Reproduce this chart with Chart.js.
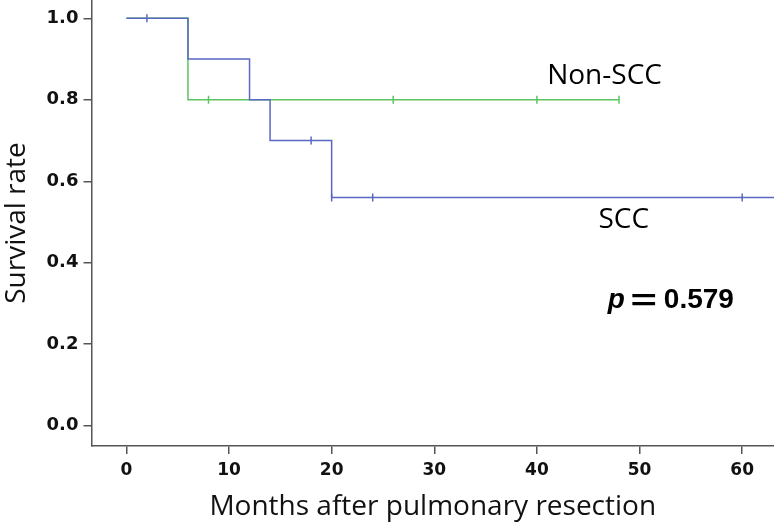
<!DOCTYPE html>
<html lang="en">
<head>
    <meta charset="UTF-8">
    <title>Survival after pulmonary resection</title>
    <script src="https://cdn.jsdelivr.net/npm/chart.js@4.4.0/dist/chart.umd.min.js"></script>
    <style>
        body { margin: 0; background: #fff; }
        .chart-container { width: 774px; height: 525px; }
    </style>
</head>
<body>
    <div class="chart-container">
        <canvas id="kmChart"></canvas>
    </div>

    <script>
        // Kaplan-Meier steps (time in months, survival after event)
        const sccTimes = [0, 6, 12, 14, 20, 63.1];
        const sccSurvival = [1.0, 0.9, 0.8, 0.7, 0.56, 0.56];
        const sccCensorTimes = [2, 18, 20, 24, 60];
        const sccCensorSurvival = [1.0, 0.7, 0.56, 0.56, 0.56];

        const nonSccTimes = [0, 6, 48];
        const nonSccSurvival = [1.0, 0.8, 0.8];
        const nonSccCensorTimes = [8, 26, 40, 48];
        const nonSccCensorSurvival = [0.8, 0.8, 0.8, 0.8];

        const xTicks = [0, 10, 20, 30, 40, 50, 60];
        const yTicks = [0.0, 0.2, 0.4, 0.6, 0.8, 1.0];

        const blue = '#5a68c2';
        const green = '#5cc462';
        const axisColor = '#555555';

        const toPoints = (xs, ys) => xs.map((x, i) => ({ x: x, y: ys[i] }));

        // text labels placed in data coordinates
        const labelPlugin = {
            id: 'labels',
            afterDatasetsDraw(chart) {
                const ctx = chart.ctx;
                const xs = chart.scales.x, ys = chart.scales.y;
                ctx.save();
                ctx.fillStyle = '#000';
                ctx.textBaseline = 'middle';
                ctx.font = '28px "Open Sans", sans-serif';
                ctx.fillText('Non-SCC', xs.getPixelForValue(41.0), ys.getPixelForValue(0.858));
                ctx.fillText('SCC', xs.getPixelForValue(46.0), ys.getPixelForValue(0.505));

                let px = xs.getPixelForValue(46.9);
                const py = ys.getPixelForValue(0.308);
                ctx.font = 'italic bold 28px "Liberation Sans", Arial, sans-serif';
                ctx.fillText('p', px, py);
                px += ctx.measureText('p').width + 3;
                ctx.font = 'bold 32px "Noto Sans CJK JP", sans-serif';
                ctx.fillText('＝', px, py);
                px += ctx.measureText('＝').width + 4;
                ctx.font = 'bold 28px "Liberation Sans", Arial, sans-serif';
                ctx.fillText('0.579', px, py);
                ctx.restore();
            }
        };

        const ctx = document.getElementById('kmChart').getContext('2d');
        new Chart(ctx, {
            type: 'line',
            data: {
                datasets: [{
                    label: 'SCC',
                    data: toPoints(sccTimes, sccSurvival),
                    borderColor: blue,
                    borderWidth: 1.5,
                    stepped: true,
                    pointRadius: 0
                }, {
                    label: 'Non-SCC',
                    data: toPoints(nonSccTimes, nonSccSurvival),
                    borderColor: green,
                    borderWidth: 1.5,
                    stepped: true,
                    pointRadius: 0
                }, {
                    label: 'SCC censored',
                    type: 'scatter',
                    data: toPoints(sccCensorTimes, sccCensorSurvival),
                    pointStyle: 'line',
                    rotation: 90,
                    pointRadius: 4,
                    borderColor: blue,
                    borderWidth: 1.5
                }, {
                    label: 'Non-SCC censored',
                    type: 'scatter',
                    data: toPoints(nonSccCensorTimes, nonSccCensorSurvival),
                    pointStyle: 'line',
                    rotation: 90,
                    pointRadius: 4,
                    borderColor: green,
                    borderWidth: 1.5
                }]
            },
            options: {
                responsive: true,
                maintainAspectRatio: false,
                animation: false,
                layout: { autoPadding: false, padding: { top: 0, right: 0, bottom: 1, left: 0 } },
                scales: {
                    x: {
                        type: 'linear',
                        min: -3.4,
                        max: 63.1,
                        afterBuildTicks: (axis) => { axis.ticks = xTicks.map(v => ({ value: v })); },
                        afterFit: (axis) => { axis.paddingRight = 0; axis.paddingLeft = 0; },
                        ticks: {
                            color: '#111',
                            padding: 6,
                            font: { family: '"DejaVu Sans", sans-serif', size: 17, weight: 'bold' }
                        },
                        grid: { drawOnChartArea: false, tickLength: 8, color: axisColor, lineWidth: 1.5 },
                        border: { color: axisColor, width: 1.5 },
                        title: {
                            display: true,
                            text: 'Months after pulmonary resection',
                            color: '#111',
                            padding: { top: 4, bottom: 0 },
                            font: { family: '"Open Sans", sans-serif', size: 28 }
                        }
                    },
                    y: {
                        min: -0.05,
                        max: 1.045,
                        afterBuildTicks: (axis) => { axis.ticks = yTicks.map(v => ({ value: v })); },
                        afterFit: (axis) => { axis.paddingTop = 0; },
                        ticks: {
                            color: '#111',
                            padding: 5,
                            callback: (v) => v.toFixed(1),
                            font: { family: '"DejaVu Sans", sans-serif', size: 18, weight: 'bold' }
                        },
                        grid: { drawOnChartArea: false, tickLength: 8, color: axisColor, lineWidth: 1.5 },
                        border: { color: axisColor, width: 1.5 },
                        title: {
                            display: true,
                            text: 'Survival rate',
                            color: '#111',
                            padding: { top: 0, bottom: 8 },
                            font: { family: '"Open Sans", sans-serif', size: 28 }
                        }
                    }
                },
                plugins: {
                    legend: { display: false },
                    tooltip: { enabled: false }
                }
            },
            plugins: [labelPlugin]
        });
    </script>
</body>
</html>
